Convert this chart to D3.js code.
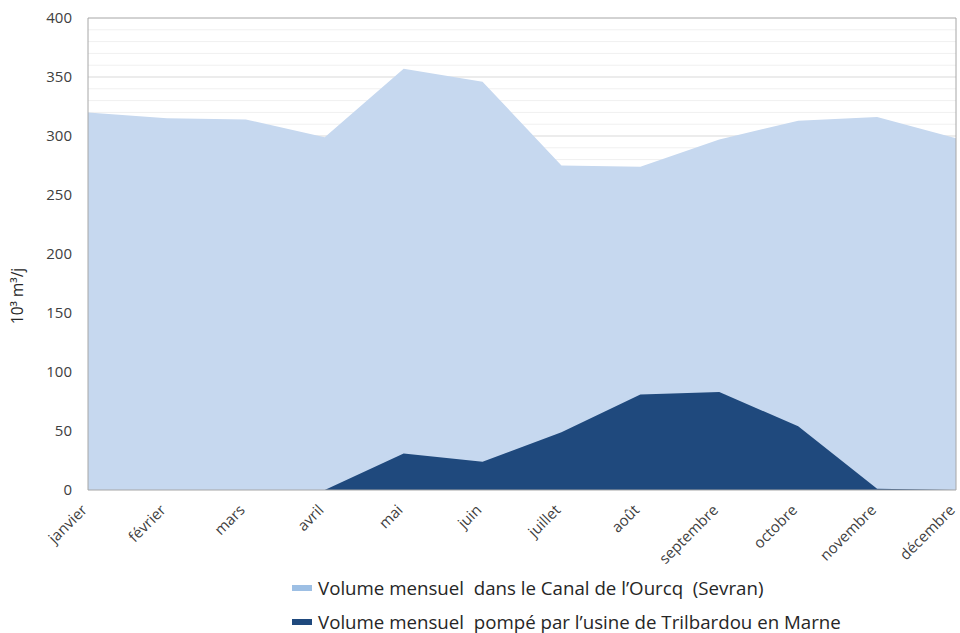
<!DOCTYPE html>
<html>
<head>
<meta charset="utf-8">
<script src="https://cdn.jsdelivr.net/npm/d3@7"></script>
<style>
  body { margin: 0; background: #fff; }
  svg { display: block; font-family: "Open Sans", "Noto Sans", sans-serif; }
  text { white-space: pre; }
</style>
</head>
<body>
<svg id="chart" width="960" height="633"></svg>
<script>
// data (10^3 m3/j)
var months = ['janvier', 'février', 'mars', 'avril', 'mai', 'juin',
  'juillet', 'août', 'septembre', 'octobre', 'novembre', 'décembre'];
var canalOurcq = [320, 315, 314, 299, 357, 346, 275, 274, 297, 313, 316, 298];
var trilbardou = [0, 0, 0, 0, 31, 24, 49, 81, 83, 54, 1, 0];
var yTicks = [0, 50, 100, 150, 200, 250, 300, 350, 400];
var legendLabels = [
  'Volume mensuel  dans le Canal de l\u2019Ourcq  (Sevran)',
  'Volume mensuel  pompé par l\u2019usine de Trilbardou en Marne'
];

var svg = d3.select('#chart');
var plotLeft = 88, plotRight = 956, plotTop = 18, plotBottom = 490;

var x = d3.scalePoint().domain(months).range([plotLeft, plotRight]);
var y = d3.scaleLinear().domain([0, 400]).range([plotBottom, plotTop]);

// minor gridlines
svg.append('g')
  .selectAll('line')
  .data(d3.range(0, 401, 10).filter(function (v) { return v % 50 !== 0; }))
  .join('line')
  .attr('x1', plotLeft).attr('x2', plotRight)
  .attr('y1', function (d) { return y(d); })
  .attr('y2', function (d) { return y(d); })
  .attr('stroke', '#f0f0f0');

// major gridlines
svg.append('g')
  .selectAll('line')
  .data(yTicks.slice(1))
  .join('line')
  .attr('x1', plotLeft).attr('x2', plotRight)
  .attr('y1', function (d) { return y(d); })
  .attr('y2', function (d) { return y(d); })
  .attr('stroke', function (d) { return d === 400 ? '#a6a6a6' : '#d9d9d9'; });

var area = function (values) {
  return d3.area()
    .x(function (d, i) { return x(months[i]); })
    .y0(y(0))
    .y1(function (d) { return y(d); })(values);
};

svg.append('path').attr('d', area(canalOurcq)).attr('fill', '#c6d8ef');
svg.append('path').attr('d', area(trilbardou)).attr('fill', '#1f497d');

// plot frame
svg.append('line').attr('x1', plotLeft).attr('x2', plotLeft).attr('y1', plotTop).attr('y2', plotBottom)
  .attr('stroke', '#a6a6a6');
svg.append('line').attr('x1', plotRight).attr('x2', plotRight).attr('y1', plotTop).attr('y2', plotBottom)
  .attr('stroke', '#a6a6a6');
svg.append('line').attr('x1', plotLeft).attr('x2', plotRight).attr('y1', plotBottom).attr('y2', plotBottom)
  .attr('stroke', '#a6a6a6');

// y axis labels
svg.append('g')
  .selectAll('text')
  .data(yTicks)
  .join('text')
  .attr('x', 72)
  .attr('y', function (d) { return y(d); })
  .attr('dy', '0.35em')
  .attr('text-anchor', 'end')
  .attr('font-size', 15)
  .attr('fill', '#404040')
  .text(function (d) { return d; });

// y title
svg.append('text')
  .attr('transform', 'translate(23,296) rotate(-90)')
  .attr('text-anchor', 'middle')
  .attr('font-size', 15.5)
  .attr('fill', '#262626')
  .text('10³ m³/j');

// x axis labels
svg.append('g')
  .selectAll('text')
  .data(months)
  .join('text')
  .attr('transform', function (d) { return 'translate(' + x(d) + ',' + (plotBottom + 21) + ') rotate(-45)'; })
  .attr('text-anchor', 'end')
  .attr('font-size', 15)
  .attr('fill', '#404040')
  .text(function (d) { return d; });

// legend
var legendColors = ['#9dbfe4', '#1f497d'];
var legend = svg.append('g')
  .selectAll('g')
  .data(legendLabels)
  .join('g')
  .attr('transform', function (d, i) { return 'translate(292,' + (588 + i * 34) + ')'; });
legend.append('rect')
  .attr('x', 0).attr('y', -3).attr('width', 20).attr('height', 6)
  .attr('fill', function (d, i) { return legendColors[i]; });
legend.append('text')
  .attr('x', 26).attr('dy', '0.35em')
  .attr('font-size', 18.7)
  .attr('fill', '#262626')
  .text(function (d) { return d; });
</script>
</body>
</html>
